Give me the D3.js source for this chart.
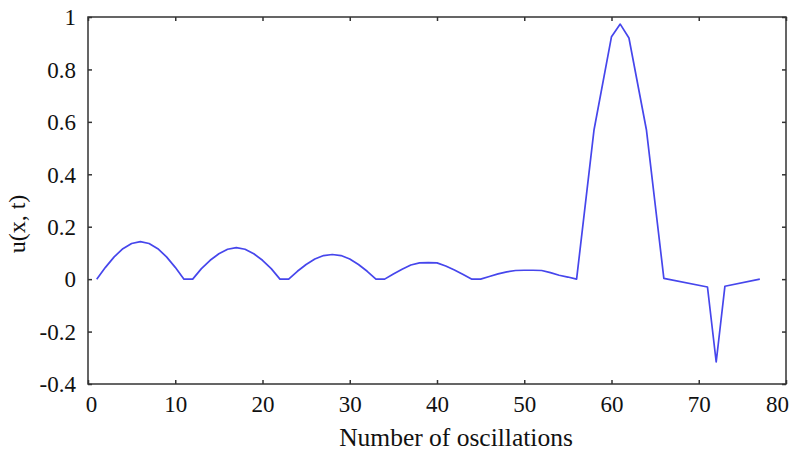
<!DOCTYPE html>
<html>
<head>
<meta charset="utf-8">
<script src="https://cdn.jsdelivr.net/npm/d3@7"></script>
<style>
  html, body { margin: 0; padding: 0; background: #fff; }
  svg { display: block; }
</style>
</head>
<body>
<svg id="chart" width="795" height="458"></svg>
<script>
// Data (vertices of the polyline)
const tValues = [1,2,3,4,5,6,7,8,9,10,11,
                 12,13,14,15,16,17,18,19,20,21,22,
                 23,24,25,26,27,28,29,30,31,32,33,
                 34,35,36,37,38,39,40,41,42,43,44,
                 45,46,47,48,49,50,51,52,53,54,55,
                 56,58,60,61,62,64,66,71,72,73,77];
const uValues = [0,0.045,0.085,0.116,0.136,0.143,0.136,0.116,0.085,0.045,0,
                 0,0.04,0.072,0.097,0.114,0.12,0.114,0.097,0.072,0.04,0,
                 0,0.03,0.056,0.077,0.09,0.094,0.09,0.077,0.056,0.03,0,
                 0,0.02,0.038,0.054,0.062,0.063,0.062,0.05,0.035,0.018,0,
                 0,0.01,0.02,0.028,0.033,0.034,0.034,0.033,0.025,0.015,0.008,
                 0,0.57,0.925,0.973,0.92,0.57,0.003,-0.03,-0.316,-0.027,0];
const xTicks = [0,10,20,30,40,50,60,70,80];
const yTicks = [-0.4,-0.2,0,0.2,0.4,0.6,0.8,1];
const yTickLabels = ["-0.4","-0.2","0","0.2","0.4","0.6","0.8","1"];
const xLabel = "Number of oscillations";
const yLabel = "u(x, t)";

const svg = d3.select("#chart");
const L = 88, R = 786, T = 17, B = 384;
const FONT = "'Liberation Serif', 'DejaVu Serif', 'Noto Serif', serif";

const x = d3.scaleLinear().domain([0, 80]).range([L, R]);
const y = d3.scaleLinear().domain([-0.4, 1]).range([B, T]);

// frame
svg.append("rect")
  .attr("x", L).attr("y", T).attr("width", R - L).attr("height", B - T)
  .attr("fill", "none").attr("stroke", "#333").attr("stroke-width", 1.5);

// bottom axis (inward ticks)
const gx = svg.append("g").attr("transform", `translate(0,${B})`)
  .call(d3.axisBottom(x).tickValues(xTicks).tickSizeInner(-4).tickSizeOuter(0).tickPadding(12).tickFormat(d => String(d)));
// top mirrored ticks
const gxt = svg.append("g").attr("transform", `translate(0,${T})`)
  .call(d3.axisTop(x).tickValues(xTicks).tickSizeInner(-4).tickSizeOuter(0).tickFormat(""));
// left axis
const gy = svg.append("g").attr("transform", `translate(${L},0)`)
  .call(d3.axisLeft(y).tickValues(yTicks).tickSizeInner(-4).tickSizeOuter(0).tickPadding(12)
    .tickFormat((d, i) => yTickLabels[i]));
// right mirrored ticks
const gyr = svg.append("g").attr("transform", `translate(${R},0)`)
  .call(d3.axisRight(y).tickValues(yTicks).tickSizeInner(-4).tickSizeOuter(0).tickFormat(""));

[gx, gxt, gy, gyr].forEach(g => {
  g.attr("font-family", null).attr("font-size", null);
  g.select(".domain").remove();
  g.selectAll(".tick line").attr("stroke", "#333").attr("stroke-width", 1.5);
  g.selectAll(".tick text")
    .style("font-family", FONT).style("font-size", "23px").attr("fill", "#111");
});
gx.selectAll(".tick text").attr("dy", "0.71em");
gy.selectAll(".tick text").attr("dy", "0.34em");
// keep end labels inside the image, as in the reference
gx.selectAll(".tick text").filter(d => d === 80).attr("x", -9);
gx.selectAll(".tick text").filter(d => d === 0).attr("x", 3);

// line
const line = d3.line().x((d, i) => x(tValues[i])).y(d => y(d));
svg.append("path")
  .datum(uValues)
  .attr("d", line)
  .attr("fill", "none")
  .attr("stroke", "#4646ec")
  .attr("stroke-width", 1.7)
  .attr("stroke-linejoin", "round");

// axis titles
svg.append("text")
  .attr("x", (L + R) / 2 + 19).attr("y", 446)
  .attr("text-anchor", "middle")
  .style("font-family", FONT).style("font-size", "25.5px").attr("fill", "#111")
  .text(xLabel);

svg.append("text")
  .attr("transform", `translate(25,224) rotate(-90)`)
  .attr("text-anchor", "middle")
  .style("font-family", FONT).style("font-size", "24px").attr("fill", "#111")
  .text(yLabel);
</script>
</body>
</html>
